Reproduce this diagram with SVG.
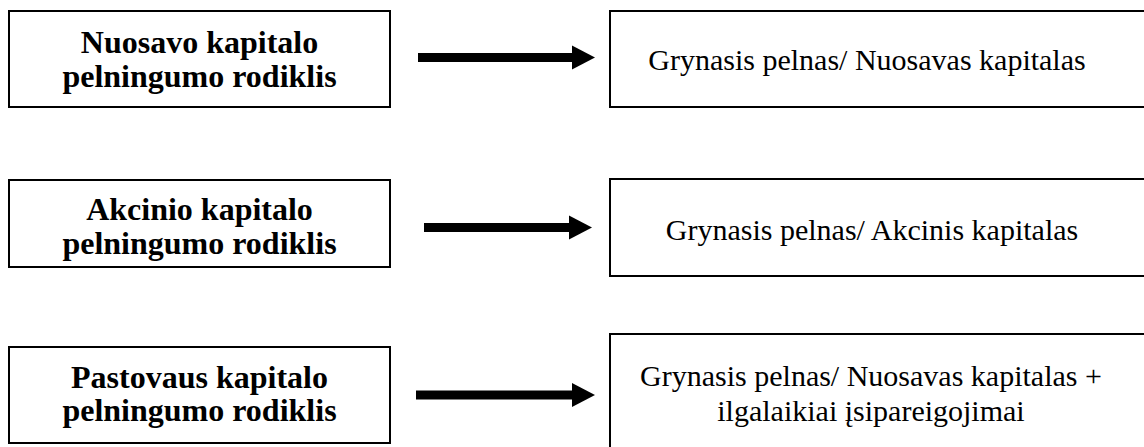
<svg xmlns="http://www.w3.org/2000/svg" width="1144" height="447" viewBox="0 0 1144 447">
<style>
.box{fill:#fff;stroke:#000;stroke-width:2}
.l{font-family:"Liberation Serif","Times New Roman",serif;font-weight:bold;font-size:32px;text-anchor:middle;fill:#000}
.r{font-family:"Liberation Serif","Times New Roman",serif;font-size:30px;text-anchor:middle;fill:#000}
.arr{stroke:#000;stroke-width:9;fill:none}
</style>
<defs>
<marker id="ah" markerUnits="userSpaceOnUse" markerWidth="24" markerHeight="26" refX="0" refY="12" orient="auto" viewBox="0 0 24 24">
<path d="M0,0 L23,12 L0,24 Z" fill="#000"/>
</marker>
</defs>
<rect width="1144" height="447" fill="#fff"/>
<g id="left1"><rect class="box" x="9" y="11" width="381" height="96"/><text class="l" x="199.5" y="53">Nuosavo kapitalo</text><text class="l" x="199.5" y="87">pelningumo rodiklis</text></g>
<g id="right1"><rect class="box" x="610" y="11" width="545" height="96"/><text class="r" x="867" y="70">Grynasis pelnas/ Nuosavas kapitalas</text></g>
<g id="left2"><rect class="box" x="9" y="180" width="381" height="87"/><text class="l" x="199.5" y="220">Akcinio kapitalo</text><text class="l" x="199.5" y="254">pelningumo rodiklis</text></g>
<g id="right2"><rect class="box" x="610" y="179" width="545" height="97"/><text class="r" x="872" y="240">Grynasis pelnas/ Akcinis kapitalas</text></g>
<g id="left3"><rect class="box" x="9" y="347" width="381" height="96"/><text class="l" x="199.5" y="388">Pastovaus kapitalo</text><text class="l" x="199.5" y="421">pelningumo rodiklis</text></g>
<g id="right3"><rect class="box" x="610" y="334" width="545" height="120"/><text class="r" x="871" y="386">Grynasis pelnas/ Nuosavas kapitalas +</text><text class="r" x="871" y="421">ilgalaikiai įsipareigojimai</text></g>
<g id="connectors">
<line class="arr" x1="418" y1="57.5" x2="572" y2="57.5" marker-end="url(#ah)"/>
<line class="arr" x1="424" y1="227.5" x2="569" y2="227.5" marker-end="url(#ah)"/>
<line class="arr" x1="416" y1="395" x2="572" y2="395" marker-end="url(#ah)"/>
</g>
</svg>
